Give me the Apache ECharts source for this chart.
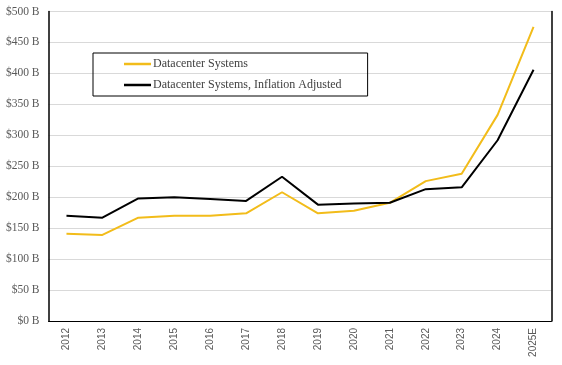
<!DOCTYPE html>
<html>
<head>
<meta charset="utf-8">
<script src="https://cdn.jsdelivr.net/npm/echarts@6/dist/echarts.min.js"></script>
<style>html,body{margin:0;padding:0;background:#fff;}#c{width:562px;height:365px;}</style>
</head>
<body>
<div id="c"></div>
<script>
var categories = ['2012','2013','2014','2015','2016','2017','2018','2019','2020','2021','2022','2023','2024','2025E'];
var datacenterSystems = [141, 139, 167, 170, 170, 174, 208, 174, 178, 191, 226, 238, 333, 475];
var inflationAdjusted = [170, 167, 198, 200, 197, 194, 233, 188, 190, 191, 213, 216, 292, 406];
var yTicks = [0, 50, 100, 150, 200, 250, 300, 350, 400, 450, 500];

var chart = echarts.init(document.getElementById('c'), null, {renderer: 'canvas'});
var serif = 'Liberation Serif';
chart.setOption({
  animation: false,
  backgroundColor: '#fff',
  grid: {left: 48.5, right: 10.5, top: 11.5, bottom: 44, containLabel: false},
  legend: {
    orient: 'vertical',
    left: 93, top: 53,
    padding: [4, 26, 4, 31],
    icon: 'rect',
    itemWidth: 27, itemHeight: 2.5, itemGap: 7,
    borderColor: '#000', borderWidth: 1,
    textStyle: {fontFamily: serif, fontSize: 12, color: '#404040', lineHeight: 14, padding: [0, 0, 0, -3]},
    data: ['Datacenter Systems', 'Datacenter Systems, Inflation Adjusted']
  },
  xAxis: [{
    type: 'category',
    data: categories,
    boundaryGap: true,
    axisLine: {show: true, lineStyle: {color: '#d9d9d9', width: 1}},
    axisTick: {show: false},
    axisLabel: {rotate: 90, margin: 7, fontFamily: 'Liberation Sans', fontSize: 10, color: '#595959', interval: 0}
  }, {
    type: 'category',
    data: categories,
    position: 'top',
    axisLine: {show: true, lineStyle: {color: '#000', width: 1}},
    axisTick: {show: false},
    axisLabel: {show: false}
  }],
  yAxis: [{
    type: 'value',
    min: 0, max: 500, interval: 50,
    axisLine: {show: true, lineStyle: {color: '#000', width: 1.5}},
    axisTick: {show: false},
    splitLine: {show: true, lineStyle: {color: '#d9d9d9', width: 1}},
    axisLabel: {
      margin: 9, fontFamily: serif, fontSize: 11.5, color: '#595959',
      formatter: function (v) { return yTicks.indexOf(v) >= 0 ? '$' + v + ' B' : ''; }
    }
  }, {
    type: 'value',
    min: 0, max: 500, interval: 50,
    position: 'right',
    axisLine: {show: true, lineStyle: {color: '#000', width: 1.5}},
    axisTick: {show: false},
    splitLine: {show: false},
    axisLabel: {show: false}
  }],
  series: [{
    name: 'Datacenter Systems',
    type: 'line',
    data: datacenterSystems,
    symbol: 'none',
    color: '#F2BC1A',
    lineStyle: {color: '#F2BC1A', width: 2}
  }, {
    name: 'Datacenter Systems, Inflation Adjusted',
    type: 'line',
    data: inflationAdjusted,
    symbol: 'none',
    color: '#000',
    lineStyle: {color: '#000', width: 2}
  }]
});
</script>
</body>
</html>
